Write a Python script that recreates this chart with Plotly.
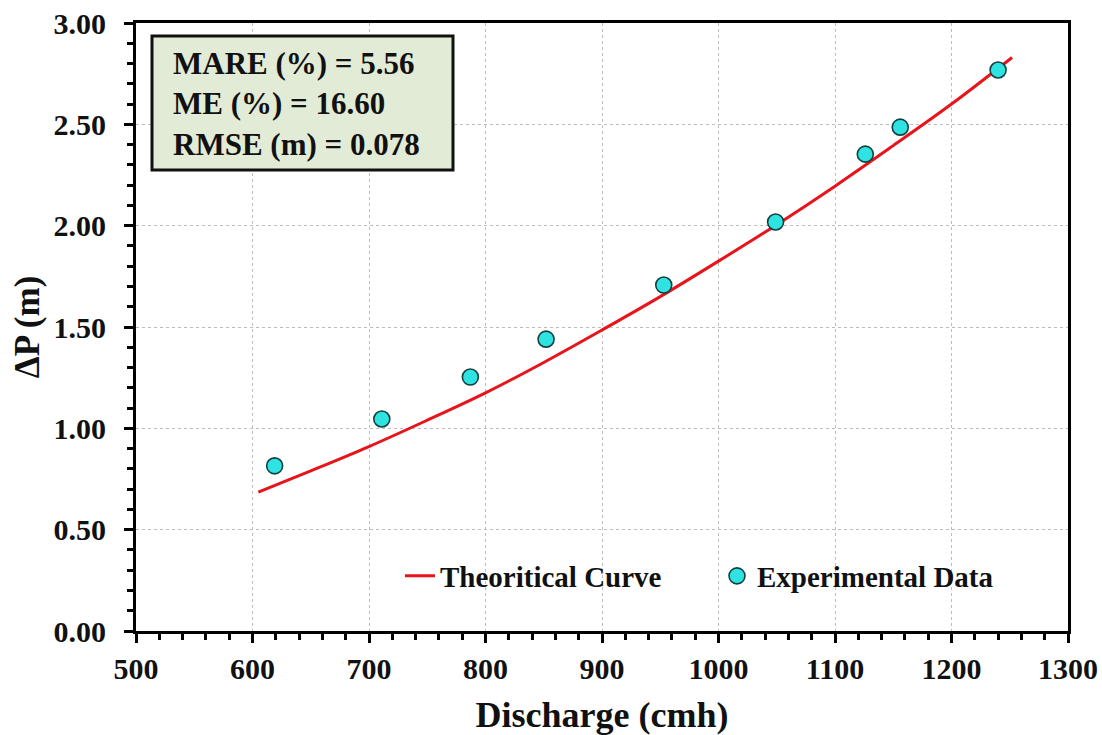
import plotly.graph_objects as go

# Experimental measurements
exp_discharge = [619, 711, 787, 852, 953, 1049, 1126, 1156, 1240]
exp_dp = [0.815, 1.046, 1.253, 1.44, 1.707, 2.018, 2.353, 2.486, 2.768]

# Theoretical curve (sampled)
th_discharge = [605, 650, 700, 750, 800, 850, 900, 950, 1000, 1050, 1100, 1150, 1200, 1252]
th_dp = [0.685, 0.79, 0.91, 1.04, 1.175, 1.325, 1.485, 1.65, 1.825, 2.005, 2.195, 2.395, 2.60, 2.83]

x_ticks = [500, 600, 700, 800, 900, 1000, 1100, 1200, 1300]
y_ticks = [0.0, 0.5, 1.0, 1.5, 2.0, 2.5, 3.0]

stats_lines = ["MARE (%) = 5.56", "ME (%) = 16.60", "RMSE (m) = 0.078"]

FONT = "Liberation Serif, Times New Roman, serif"
INK = "#111111"

# plot-area geometry in pixels
L, R, T, B = 136, 1068, 23, 631
PW, PH = R - L, B - T


def px_x(p):
    return (p - L) / PW


def px_y(p):
    return (B - p) / PH


fig = go.Figure()
fig.add_trace(go.Scatter(
    x=th_discharge, y=th_dp, mode="lines", name="Theoritical Curve",
    line=dict(color="#E8141C", width=3, shape="spline"),
))
fig.add_trace(go.Scatter(
    x=exp_discharge, y=exp_dp, mode="markers", name="Experimental Data",
    marker=dict(color="#2FE3E3", size=16, line=dict(color="#124040", width=1.6)),
))

axis_common = dict(
    showline=True, linecolor="black", linewidth=3, mirror=True,
    ticks="outside", ticklen=9, tickwidth=2.5, tickcolor="black",
    showgrid=True, gridcolor="#BDBDBD", gridwidth=1, griddash="dot",
    zeroline=False, automargin=False,
    tickfont=dict(family=FONT, size=30, color=INK, weight="bold"),
)

fig.update_xaxes(
    **axis_common, range=[500, 1300], tickvals=x_ticks,
    minor=dict(dtick=20, ticks="outside", ticklen=6, tickwidth=2.5, tickcolor="black", showgrid=False),
    title=dict(text="Discharge (cmh)", font=dict(family=FONT, size=36, color=INK, weight="bold"),
               standoff=18),
)
fig.update_yaxes(
    **axis_common, range=[0, 3], tickvals=y_ticks, tickformat=".2f",
    minor=dict(dtick=0.1, ticks="outside", ticklen=6, tickwidth=2.5, tickcolor="black", showgrid=False),
    ticklabelstandoff=12,
    title=dict(text="ΔP (m)", font=dict(family=FONT, size=35, color=INK, weight="bold"),
               standoff=4),
)

# statistics box
fig.add_shape(
    type="rect", xref="paper", yref="paper",
    x0=px_x(152), x1=px_x(453), y0=px_y(170), y1=px_y(36),
    line=dict(color=INK, width=3), fillcolor="#E2EBD5", layer="above",
)
fig.add_annotation(
    xref="paper", yref="paper", x=px_x(171), y=px_y(104),
    xanchor="left", yanchor="middle",
    text="<br>".join(stats_lines), align="left", showarrow=False,
    font=dict(family=FONT, size=31, color=INK, weight="bold"),
)

fig.update_layout(
    width=1102, height=735,
    margin=dict(l=L, r=1102 - R, t=T, b=735 - B),
    plot_bgcolor="white", paper_bgcolor="white",
    showlegend=True,
    legend=dict(
        orientation="h", x=px_x(400), y=px_y(576),
        xanchor="left", yanchor="middle", bgcolor="rgba(0,0,0,0)",
        font=dict(family=FONT, size=29, color=INK, weight="bold"),
        entrywidth=272,
    ),
)

fig.write_html("out.html")
